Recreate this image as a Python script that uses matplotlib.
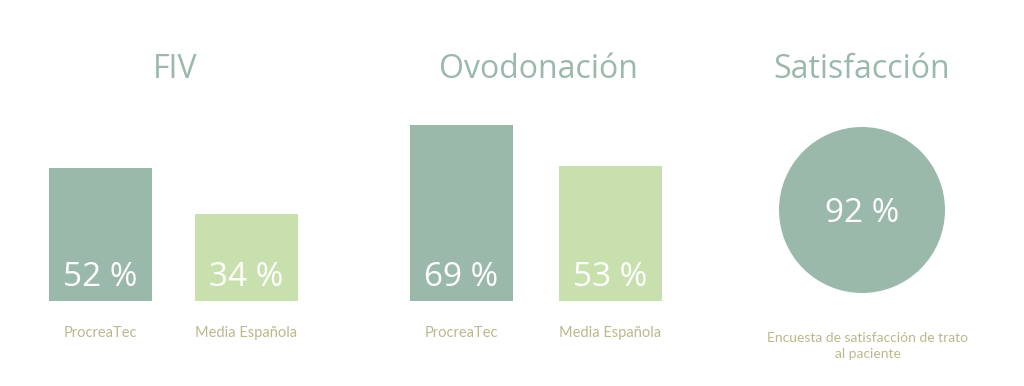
import matplotlib
matplotlib.use("Agg")
import matplotlib.pyplot as plt
from matplotlib.patches import Circle

# Data
groups = ["FIV", "Ovodonación"]
categories = ["ProcreaTec", "Media Española"]
fiv_values = [52, 34]
ovo_values = [69, 53]
satisfaction_title = "Satisfacción"
satisfaction_value = 92
satisfaction_label = "Encuesta de satisfacción de trato\nal paciente"

DARK = "#9ab9ab"
LIGHT = "#c8e0ae"
LABEL = "#bab98c"

W, H = 1024, 386
fig = plt.figure(figsize=(W / 100, H / 100), dpi=100)
fig.patch.set_facecolor("white")

# Bar axes: x in pixel units, y in percent (baseline at pixel row 301)
ax = fig.add_axes([0, (H - 301) / H, 1, 258 / H])
ax.set_xlim(0, W)
ax.set_ylim(0, 101)
ax.axis("off")

bar_w = 103
centers = [[100.5, 246.5], [461.5, 610.5]]
colors = [DARK, LIGHT]
title_x = [175, 538]
value_font = "Open Sans"

for g, vals, cx, tx in zip(groups, [fiv_values, ovo_values], centers, title_x):
    ax.bar(cx, vals, width=bar_w, color=colors, edgecolor="none")
    for x, v, cat in zip(cx, vals, categories):
        fig.text(x / W, 1 - 277 / H, f"{v} %", color="white", fontsize=24,
                 ha="center", va="center", family=value_font, weight="medium")
        fig.text(x / W, 1 - 333 / H, cat, color=LABEL, fontsize=10.5,
                 ha="center", va="center", family="Lato")
    fig.text(tx / W, 1 - 69 / H, g, color=DARK, fontsize=23,
             ha="center", va="center", family=value_font, weight="medium")

# Satisfaction circle
cax = fig.add_axes([(862 - 90) / W, 1 - (210 + 90) / H, 180 / W, 180 / H])
cax.set_xlim(-90, 90)
cax.set_ylim(-90, 90)
cax.set_aspect("equal")
cax.axis("off")
cax.add_patch(Circle((0, 0), 83, color=DARK, ec="none"))
cax.text(0, -3, f"{satisfaction_value} %", color="white", fontsize=24,
         ha="center", va="center", family=value_font, weight="medium")

fig.text(862 / W, 1 - 69 / H, satisfaction_title, color=DARK, fontsize=23,
         ha="center", va="center", family=value_font, weight="medium")
fig.text(868 / W, 1 - 346 / H, satisfaction_label, color=LABEL, fontsize=10,
         ha="center", va="center", family="Lato", linespacing=1.45)

fig.savefig("out.png", dpi=100, facecolor="white")
